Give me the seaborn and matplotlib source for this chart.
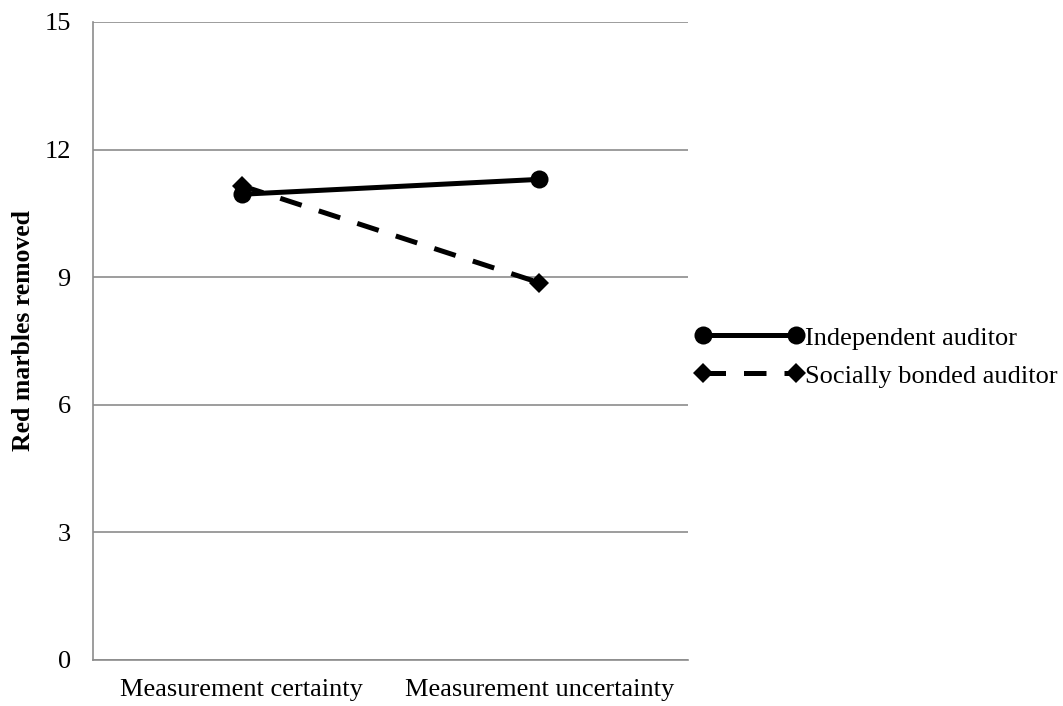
import pandas as pd
import matplotlib
matplotlib.use("Agg")
import matplotlib.pyplot as plt
import seaborn as sns

# Werte
conditions = ["Measurement certainty", "Measurement uncertainty"]
independent = [10.95, 11.3]
bonded = [11.15, 8.87]
series_names = ["Independent auditor", "Socially bonded auditor"]
y_ticks = [0, 3, 6, 9, 12, 15]

df = pd.DataFrame({
    "condition": conditions * 2,
    "removed": independent + bonded,
    "auditor": [series_names[0]] * 2 + [series_names[1]] * 2,
})

sns.set_style("white")
plt.rcParams["font.family"] = ["Liberation Serif", "DejaVu Serif"]
plt.rcParams["text.color"] = "black"
plt.rcParams["xtick.color"] = "black"
plt.rcParams["ytick.color"] = "black"
plt.rcParams["axes.labelcolor"] = "black"

fig = plt.figure(figsize=(10.63, 7.06), dpi=100)
ax = fig.add_axes([93 / 1063, 46 / 706, 595 / 1063, 638 / 706])

sns.lineplot(
    data=df, x="condition", y="removed",
    hue="auditor", style="auditor",
    palette=["black", "black"],
    markers={series_names[0]: "o", series_names[1]: "D"},
    dashes={series_names[0]: "", series_names[1]: (4.5, 3.6)},
    linewidth=3.6, markersize=13, markeredgewidth=0,
    ax=ax,
)
# Raute etwas kleiner
for line in ax.lines:
    if line.get_marker() == "D":
        line.set_markersize(10)

ax.set_xlim(-0.5, 1.5)
ax.set_ylim(0, 15)
ax.set_yticks(y_ticks)
ax.set_xticks([0, 1, 1.5])
ax.set_xticklabels(conditions + [""])
ax.yaxis.grid(True, color="#8c8c8c", linewidth=1.2)
ax.set_axisbelow(True)

for side in ["top", "right"]:
    ax.spines[side].set_visible(False)
for side in ["left", "bottom"]:
    ax.spines[side].set_color("#8c8c8c")
    ax.spines[side].set_linewidth(1.2)

ax.tick_params(axis="x", direction="in", length=6, width=1.2, color="#8c8c8c",
               labelsize=19, pad=14)
ax.tick_params(axis="y", length=0, labelsize=19, pad=16)
ax.set_xlabel("")
ax.set_ylabel("Red marbles removed", fontsize=18.5, fontweight="bold")
ax.yaxis.set_label_coords(-0.097, 0.517)

handles, labels = ax.get_legend_handles_labels()
for h in handles:
    if h.get_marker() == "D":
        h.set_markersize(10)
    else:
        h.set_markersize(13)
leg = ax.legend(handles, labels, loc="center left", bbox_to_anchor=(0.995, 0.475),
                frameon=False, fontsize=19, numpoints=2, handlelength=4.1,
                handletextpad=0.05, labelspacing=0.55, borderaxespad=0)

fig.savefig("out.png", dpi=100)
